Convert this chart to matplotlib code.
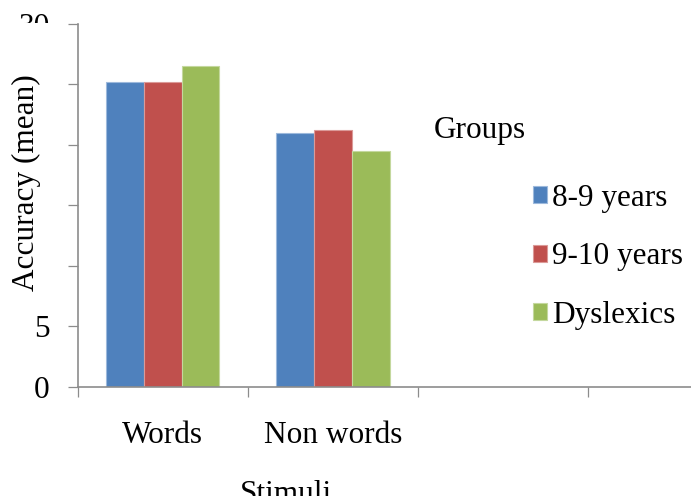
#!/usr/bin/env python3

import matplotlib as mpl
mpl.rcParams.update({
    "font.family": "Liberation Serif",
    "font.size": 22.5,
})

import matplotlib.pyplot as plt
from matplotlib.patches import Patch, Rectangle


STIMULI = ['Words', 'Non words']
GROUPS = ['8-9 years', '9-10 years', 'Dyslexics']
ACC_8_9 = [25.2, 21.0]
ACC_9_10 = [25.2, 21.2]
ACC_DYSLEXICS = [26.5, 19.5]
Y_TICKS = [0, 5, 10, 15, 20, 25, 30]
Y_TICK_LABELS = ['0', '5', '', '', '', '', '30']

COLORS = ['#4F81BD', '#C0504D', '#9BBB59']
EDGES = ['#9DB9DC', '#DB9A98', '#C4D89E']
AXIS_GREY = '#8C8C8C'

W, H = 691, 496


def px_x(x):
    return x / W


def px_y(y):
    return 1 - y / H


fig = plt.figure(figsize=(W / 100, H / 100), dpi=100)
ax = fig.add_axes([px_x(77.7), px_y(386.7), 1 - px_x(77.7), (386.7 - 24) / H])

series = [ACC_8_9, ACC_9_10, ACC_DYSLEXICS]
width = 0.222
for i, (vals, color, edge) in enumerate(zip(series, COLORS, EDGES)):
    xs = [k + (i - 1) * width for k in range(len(STIMULI))]
    ax.bar(xs, vals, width=width, color=color, edgecolor=edge, linewidth=0.8, zorder=2)

# two spare category slots to the right stay empty
ax.set_xlim(-0.5, -0.5 + (W - 77.7) / 170.2)
ax.set_ylim(0, 30)

ax.set_yticks(Y_TICKS)
ax.set_yticklabels(Y_TICK_LABELS)
ax.set_xticks([-0.5, 0.5, 1.5, 2.5])
ax.set_xticklabels([])
ax.set_xticks(range(len(STIMULI)), minor=True)
ax.set_xticklabels(STIMULI, minor=True)

ax.tick_params(axis='y', direction='out', length=7.2, width=0.9, color=AXIS_GREY, pad=13)
ax.tick_params(axis='x', which='major', direction='out', length=7.2, width=0.9, color=AXIS_GREY)
ax.tick_params(axis='x', which='minor', length=0, pad=25)

for side in ('top', 'right'):
    ax.spines[side].set_visible(False)
for side in ('left', 'bottom'):
    ax.spines[side].set_color(AXIS_GREY)
    ax.spines[side].set_linewidth(1.2)

# white block behind the y label; it also clips the foot of the top label
fig.patches.append(Rectangle((0, px_y(316)), px_x(62), (316 - 23) / H,
                             transform=fig.transFigure, facecolor='white',
                             edgecolor='none', zorder=5))
fig.text(px_x(26), px_y(182.5), 'Accuracy (mean)', rotation=90,
         ha='center', va='center', zorder=6)

fig.text(px_x(286), px_y(502), 'Stimuli', ha='center', va='baseline')
fig.text(px_x(434), px_y(138), 'Groups', ha='left', va='baseline')

handles = [Patch(facecolor=c, edgecolor=e, linewidth=0.8) for c, e in zip(COLORS, EDGES)]
fig.legend(handles, GROUPS, loc='upper left',
           bbox_to_anchor=(px_x(532.7), px_y(184)), bbox_transform=fig.transFigure,
           frameon=False, borderpad=0, borderaxespad=0,
           handlelength=0.45, handleheight=0.45, handletextpad=0.17,
           labelspacing=0.94)

fig.savefig('out.png', dpi=100)
